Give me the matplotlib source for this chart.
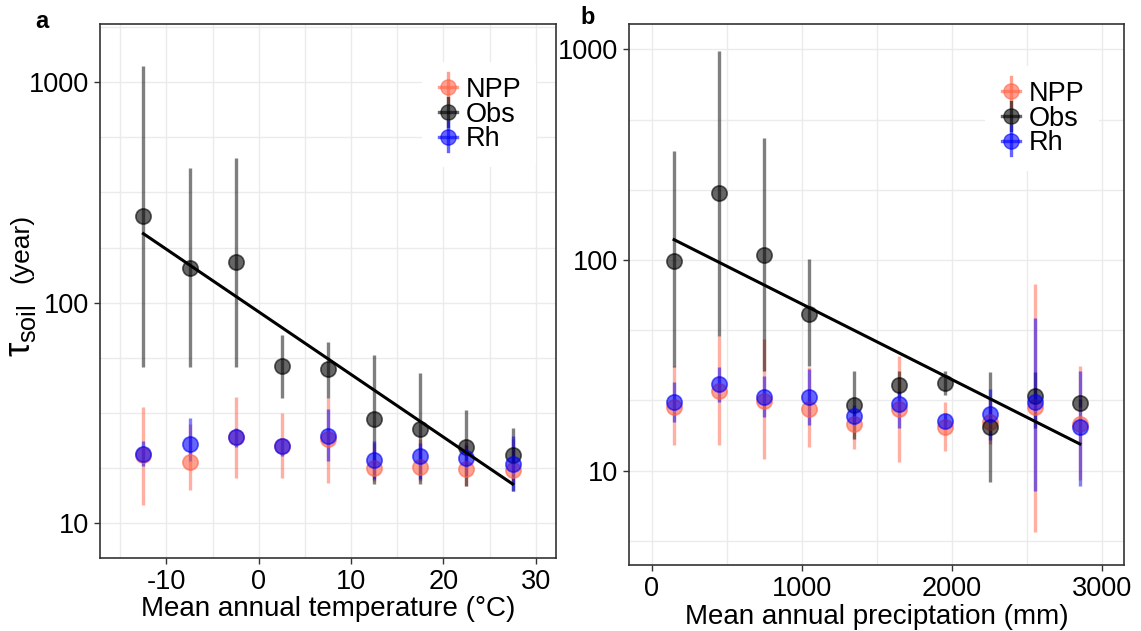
import matplotlib
matplotlib.use("Agg")
import matplotlib.pyplot as plt
from matplotlib.lines import Line2D
from matplotlib.legend_handler import HandlerBase
import numpy as np

plt.rcParams['font.family'] = ['Liberation Sans', 'DejaVu Sans']
plt.rcParams['mathtext.fontset'] = 'custom'
plt.rcParams['mathtext.rm'] = 'Liberation Sans'
plt.rcParams['mathtext.it'] = 'Liberation Sans'

# panel a: binned by mean annual temperature
temp = [-12.5, -7.5, -2.5, 2.5, 7.5, 12.5, 17.5, 22.5, 27.5]
obs_a = [247, 144, 153, 51.5, 49.8, 29.7, 26.8, 22.2, 20.3]
obs_a_lo = [51, 51, 51, 37, 37, 15, 15, 14.7, 13.9]
obs_a_hi = [1186, 410, 455, 71, 66.5, 58, 48, 32.5, 27]
npp_a = [20.3, 18.9, 24.5, 22.3, 23.9, 17.8, 18.0, 17.5, 17.3]
npp_a_lo = [12.1, 14.1, 15.9, 15.9, 15.2, 15.5, 15.5, 14.7, 15]
npp_a_hi = [33.6, 28, 37.3, 31.6, 37, 23, 24, 23, 24]
rh_a = [20.5, 22.7, 24.4, 22.3, 24.9, 19.3, 20.0, 19.6, 18.4]
rh_a_lo = [18.1, 19, 22, 20, 19.1, 15.8, 15.8, 16.3, 13.9]
rh_a_hi = [23.5, 29.8, 27, 24, 32.7, 23.5, 23, 22.5, 24.8]
fit_a_x = [-12.5, 27.5]
fit_a_y = [205.6, 15.0]

# panel b: binned by mean annual precipitation
prec = [150, 450, 750, 1050, 1350, 1650, 1950, 2250, 2550, 2850]
obs_b = [99.3, 208, 105.6, 55.5, 20.5, 25.5, 26.0, 16.1, 22.7, 20.9]
obs_b_lo = [31, 43.7, 29.8, 31.5, 14.1, 22.7, 23, 8.8, 16, 20]
obs_b_hi = [330, 985, 378, 101, 29.8, 29.8, 29.8, 29.5, 29.4, 22]
npp_b = [20.1, 24.0, 21.5, 19.6, 16.7, 19.6, 16.1, 17.0, 20.0, 16.7]
npp_b_lo = [13.3, 13.2, 11.4, 12.9, 12.7, 11.0, 12.4, 13.4, 5.1, 9]
npp_b_hi = [31.5, 43.7, 42.2, 31, 19.5, 35.2, 21.1, 22, 77, 31.5]
rh_b = [21.1, 25.8, 22.3, 22.3, 18.2, 20.7, 17.2, 18.6, 21.1, 16.1]
rh_b_lo = [17.0, 21.2, 17.9, 16.4, 16.5, 15.9, 16, 14, 8.0, 8.5]
rh_b_hi = [26.3, 31, 28.2, 30.4, 20.5, 24, 18.5, 24.4, 52.9, 29.8]
fit_b_x = [150, 2850]
fit_b_y = [124.9, 13.4]

labels = ["NPP", "Obs", "Rh"]
colors = {"NPP": "tomato", "Obs": "black", "Rh": "blue"}
alpha = 0.5


class PointRange(HandlerBase):
	# point + cross key, like ggplot's pointrange legend
	def create_artists(self, legend, orig_handle, xdescent, ydescent, width, height, fontsize, trans):
		c = orig_handle.get_color()
		cx = width / 2 - xdescent
		cy = height / 2 - ydescent
		hl = Line2D([cx - 0.42 * width, cx + 0.42 * width], [cy, cy], color=c, lw=2.4, alpha=0.6, transform=trans)
		vl = Line2D([cx, cx], [cy - 0.75 * height, cy + 0.75 * height], color=c, lw=2.4, alpha=0.6, transform=trans)
		pt = Line2D([cx], [cy], marker='o', ms=11, ls='none', color=c, alpha=0.6, transform=trans)
		return [hl, vl, pt]


def draw_series(ax, x, y, lo, hi, name):
	y = np.array(y)
	err = [y - np.array(lo), np.array(hi) - y]
	c = colors[name]
	ax.errorbar(x, y, yerr=err, fmt='none', ecolor=c, elinewidth=2.4, alpha=alpha, capsize=0, zorder=3)
	ax.plot(x, y, 'o', ms=11, color=c, mec=c, mew=1.2, alpha=alpha + 0.1, zorder=4)


def style_axes(ax, ylim, ygrid):
	ax.set_yscale('log')
	ax.set_yticks([10, 100, 1000])
	ax.set_yticklabels(["10", "100", "1000"])
	ax.set_yticks(ygrid, minor=True)
	ax.yaxis.set_minor_formatter(plt.NullFormatter())
	ax.set_ylim(*ylim)
	ax.grid(True, which='both', color='#ebebeb', lw=1.0, zorder=0)
	ax.set_axisbelow(True)
	for s in ax.spines.values():
		s.set_color('#333333')
		s.set_linewidth(1.2)
	ax.tick_params(which='major', length=4, width=1, color='#333333', labelsize=19.5, pad=4)
	ax.tick_params(which='minor', length=0)


def add_legend(anchor):
	handles = [Line2D([], [], color=colors[n]) for n in labels]
	leg = fig.legend(handles, labels, loc='upper left', bbox_to_anchor=anchor,
		handler_map={Line2D: PointRange()}, fontsize=19.5,
		frameon=True, facecolor='white', edgecolor='none', framealpha=1,
		handlelength=0.8, handletextpad=0.25, labelspacing=-0.05, borderpad=0.55,
		borderaxespad=0)
	return leg


fig = plt.figure(figsize=(11.41, 6.31), dpi=100)
W, H = 1141, 631

ax1 = fig.add_axes([100 / W, 1 - 558 / H, 456 / W, 534 / H])
ax2 = fig.add_axes([629.3 / W, 1 - 565 / H, 495 / W, 540.7 / H])

for name, y, lo, hi in [("NPP", npp_a, npp_a_lo, npp_a_hi), ("Obs", obs_a, obs_a_lo, obs_a_hi), ("Rh", rh_a, rh_a_lo, rh_a_hi)]:
	draw_series(ax1, temp, y, lo, hi, name)
ax1.plot(fit_a_x, fit_a_y, color='black', lw=2.2, zorder=6)
style_axes(ax1, (6.92, 1841), [10 ** (k / 4) for k in range(3, 14)])
ax1.set_xticks([-10, 0, 10, 20, 30])
ax1.set_xticklabels(["-10", "0", "10", "20", "30"])
ax1.set_xticks([-15, -5, 5, 15, 25], minor=True)
ax1.set_xlim(-17.2, 32.2)
ax1.set_xlabel("Mean annual temperature (°C)", fontsize=20, labelpad=1)

for name, y, lo, hi in [("NPP", npp_b, npp_b_lo, npp_b_hi), ("Obs", obs_b, obs_b_lo, obs_b_hi), ("Rh", rh_b, rh_b_lo, rh_b_hi)]:
	draw_series(ax2, prec, y, lo, hi, name)
ax2.plot(fit_b_x, fit_b_y, color='black', lw=2.2, zorder=6)
style_axes(ax2, (3.57, 1314), [10 ** (k / 3) for k in range(1, 10)])
ax2.set_xticks([0, 1000, 2000, 3000])
ax2.set_xticklabels(["0", "1000", "2000", "3000"])
ax2.set_xticks([500, 1500, 2500], minor=True)
ax2.set_xlim(-148, 3146)
ax2.set_xlabel("Mean annual preciptation (mm)", fontsize=20, labelpad=1)

# y label: big tau with subscript, then (year)
fig.text(21 / W, 1 - 331 / H, r'$\tau_{\mathrm{soil}}$', rotation=90, fontsize=26, ha='center', va='center')
fig.text(21 / W, 1 - 248 / H, '(year)', rotation=90, fontsize=19, ha='center', va='center')

add_legend((422 / W, 1 - 62 / H))
add_legend((985 / W, 1 - 66 / H))

fig.text(42 / W, 1 - 22 / H, 'a', fontsize=17, fontweight='bold', ha='center', va='center')
fig.text(588 / W, 1 - 17 / H, 'b', fontsize=17, fontweight='bold', ha='center', va='center')

fig.savefig('out.png', dpi=100)
